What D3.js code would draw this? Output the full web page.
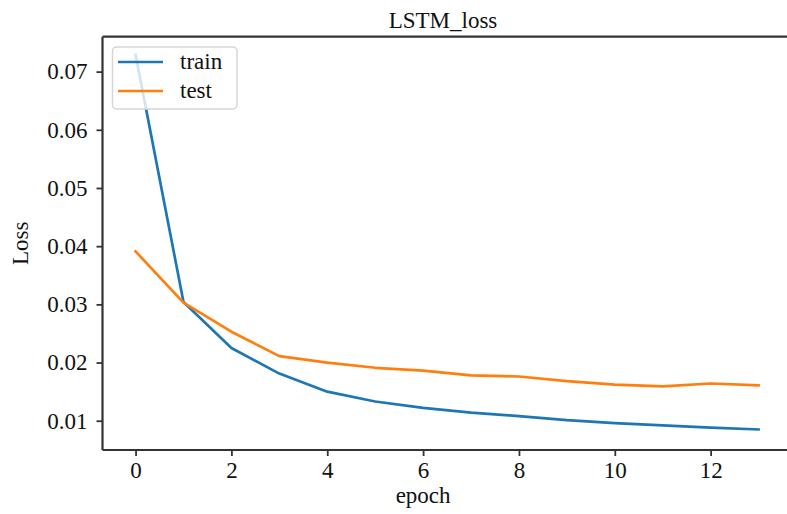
<!DOCTYPE html>
<html>
<head>
<meta charset="utf-8">
<script src="https://cdn.jsdelivr.net/npm/d3@7"></script>
<style>
  html, body { margin: 0; padding: 0; background: #fff; }
  svg { display: block; font-family: "Liberation Serif", "Times New Roman", serif; }
</style>
</head>
<body>
<svg id="chart" width="787" height="514"></svg>
<script>
// Training history of the LSTM model
const epochs = [0, 1, 2, 3, 4, 5, 6, 7, 8, 9, 10, 11, 12, 13];
const trainLoss = [0.0729, 0.0304, 0.0225, 0.0181, 0.0150, 0.0133, 0.0122, 0.0114, 0.0108, 0.0101, 0.0096, 0.0092, 0.0088, 0.0085];
const testLoss  = [0.0391, 0.0303, 0.0253, 0.0211, 0.0200, 0.0191, 0.0186, 0.0178, 0.0176, 0.0168, 0.0162, 0.0159, 0.0164, 0.0161];
const xTicks = [0, 2, 4, 6, 8, 10, 12];
const yTicks = [0.01, 0.02, 0.03, 0.04, 0.05, 0.06, 0.07];
const seriesNames = ["train", "test"];
const seriesColors = ["#1f77b4", "#ff7f0e"];

const svg = d3.select("#chart");
const plotLeft = 102.5, plotRight = 789.7, plotTop = 36.7, plotBottom = 450;
const fontSize = 23;

const x = d3.scaleLinear().domain([-0.69, 13.65]).range([plotLeft, plotRight]);
const y = d3.scaleLinear().domain([0.00497, 0.0760]).range([plotBottom, plotTop]);

// Slight softening for the coloured strokes (region in user space so flat lines keep it)
const defs = svg.append("defs");
defs.append("filter").attr("id", "soft")
  .attr("filterUnits", "userSpaceOnUse")
  .attr("x", 0).attr("y", 0).attr("width", 787).attr("height", 514)
  .append("feGaussianBlur").attr("stdDeviation", 0.5);

// Series lines
const line = d3.line().x((d, i) => x(epochs[i])).y(d => y(d));
[trainLoss, testLoss].forEach((vals, k) => {
  svg.append("path")
    .datum(vals)
    .attr("d", line)
    .attr("fill", "none")
    .attr("stroke", seriesColors[k])
    .attr("stroke-width", 2.7)
    .attr("stroke-linejoin", "round")
    .attr("stroke-linecap", "square")
    .attr("filter", "url(#soft)");
});

// Axes
const axisColor = "#333";
const xAxis = svg.append("g")
  .attr("transform", `translate(0,${plotBottom})`)
  .call(d3.axisBottom(x).tickValues(xTicks).tickFormat(d3.format("d")).tickSize(6).tickPadding(6));
const yAxis = svg.append("g")
  .attr("transform", `translate(${plotLeft},0)`)
  .call(d3.axisLeft(y).tickValues(yTicks).tickFormat(d3.format(".2f")).tickSize(6).tickPadding(9));

[xAxis, yAxis].forEach(g => {
  g.select(".domain").remove();
  g.selectAll(".tick line").attr("stroke", axisColor).attr("stroke-width", 1.8);
  g.selectAll(".tick text")
    .attr("fill", "#111")
    .style("font-family", '"Liberation Serif", "Times New Roman", serif')
    .style("font-size", fontSize + "px");
});

// Frame
const frame = svg.append("g").attr("stroke", axisColor).attr("stroke-width", 2.2).attr("fill", "none");
frame.append("line").attr("x1", plotLeft).attr("x2", plotLeft).attr("y1", plotTop).attr("y2", plotBottom);
frame.append("line").attr("x1", plotLeft).attr("x2", plotRight).attr("y1", plotBottom).attr("y2", plotBottom);
frame.append("line").attr("x1", plotLeft).attr("x2", plotRight).attr("y1", plotTop).attr("y2", plotTop);
frame.append("line").attr("x1", plotRight).attr("x2", plotRight).attr("y1", plotTop).attr("y2", plotBottom);

// Title and axis labels
svg.append("text")
  .attr("x", 443).attr("y", 28)
  .attr("text-anchor", "middle")
  .attr("fill", "#111")
  .style("font-size", fontSize + "px")
  .text("LSTM_loss");

svg.append("text")
  .attr("x", x(6)).attr("y", 503)
  .attr("text-anchor", "middle")
  .attr("fill", "#111")
  .style("font-size", fontSize + "px")
  .text("epoch");

svg.append("text")
  .attr("transform", `translate(28,${(plotTop + plotBottom) / 2}) rotate(-90)`)
  .attr("text-anchor", "middle")
  .attr("fill", "#111")
  .style("font-size", fontSize + "px")
  .text("Loss");

// Legend
const legend = svg.append("g");
legend.append("rect")
  .attr("x", 112.5).attr("y", 47).attr("width", 124.5).attr("height", 62)
  .attr("rx", 4).attr("ry", 4)
  .attr("fill", "#fff").attr("fill-opacity", 0.8)
  .attr("stroke", "#d6d6d6").attr("stroke-width", 1.5);
seriesNames.forEach((name, i) => {
  const ly = 62 + i * 29;
  legend.append("line")
    .attr("x1", 118).attr("x2", 163).attr("y1", ly).attr("y2", ly)
    .attr("stroke", seriesColors[i]).attr("stroke-width", 2.7)
    .attr("filter", "url(#soft)");
  legend.append("text")
    .attr("x", 180).attr("y", ly + 7)
    .attr("fill", "#111")
    .style("font-size", fontSize + "px")
    .text(name);
});
</script>
</body>
</html>
